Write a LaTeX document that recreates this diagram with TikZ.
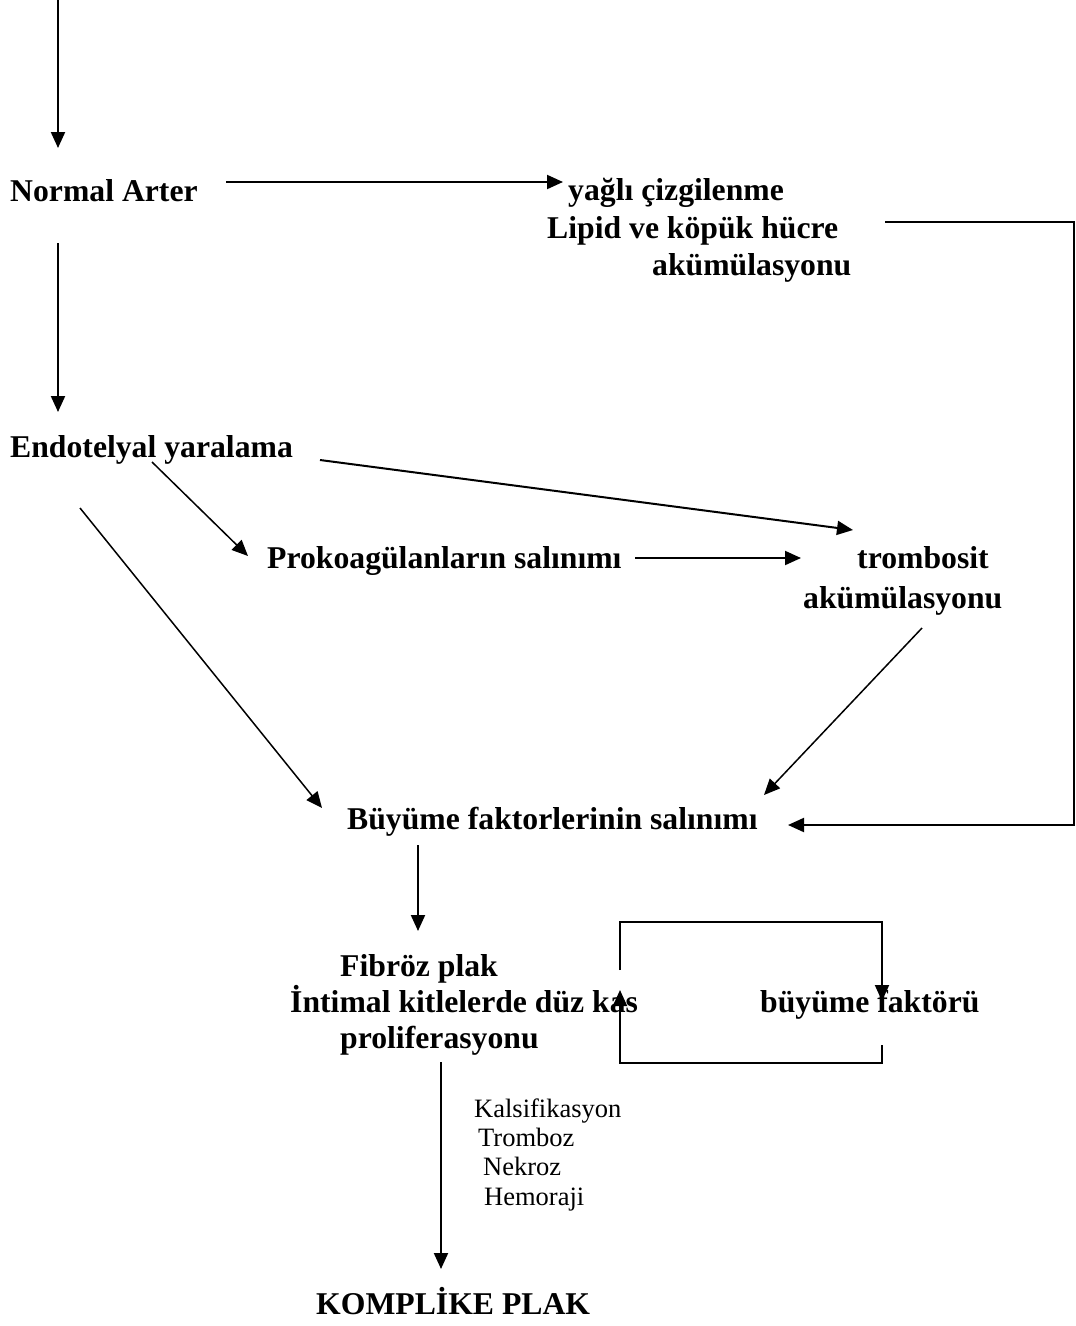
\documentclass[tikz,border=0pt]{standalone}
\usepackage{fontspec}
\setmainfont{Liberation Serif}
\usetikzlibrary{arrows.meta}
\begin{document}
\begin{tikzpicture}[x=1pt,y=-1pt,
  lbl/.style={anchor=base west,inner sep=0pt,font=\fontsize{31.7}{36}\selectfont\bfseries},
  sml/.style={anchor=base west,inner sep=0pt,font=\fontsize{26.5}{30}\selectfont},
  arr/.style={line width=2pt,-{Triangle[length=16pt,width=14pt]}},
  tarr/.style={line width=1.5pt,-{Triangle[length=16pt,width=14pt]}},
  ln/.style={line width=2pt}]
\useasboundingbox (0,0) rectangle (1076,1326);
% texts
\node[lbl] (normal) at (10,201) {Normal Arter};
\node[lbl] (yagli1) at (568,200) {yağlı çizgilenme};
\node[lbl] (yagli2) at (547,238) {Lipid ve köpük hücre};
\node[lbl] (yagli3) at (652,275) {akümülasyonu};
\node[lbl] (endo) at (10,457) {Endotelyal yaralama};
\node[lbl] (prok) at (267,568) {Prokoagülanların salınımı};
\node[lbl] (tromb1) at (857,568) {trombosit};
\node[lbl] (tromb2) at (803,608) {akümülasyonu};
\node[lbl] (buy) at (347,829) {Büyüme faktorlerinin salınımı};
\node[lbl] (fib1) at (340,976) {Fibröz plak};
\node[lbl] (fib2) at (290,1012) {İntimal kitlelerde düz kas};
\node[lbl] (fib3) at (340,1048) {proliferasyonu};
\node[lbl] (bf) at (760,1012) {büyüme faktörü};
\node[sml] (k1) at (474,1117) {Kalsifikasyon};
\node[sml] (k2) at (478,1146) {Tromboz};
\node[sml] (k3) at (483,1175) {Nekroz};
\node[sml] (k4) at (484,1205) {Hemoraji};
\node[lbl] (komp) at (316,1314) {KOMPLİKE PLAK};
% coordinates
\coordinate (top) at (58,0);
\coordinate (topE) at (58,148);
\coordinate (naR) at (226,182);
\coordinate (yaL) at (563,182);
\coordinate (naD) at (58,243);
\coordinate (enU) at (58,412);
\coordinate (lipR) at (885,222);
\coordinate (c1) at (1074,222);
\coordinate (c2) at (1074,825);
\coordinate (buyR) at (788,825);
\coordinate (enR) at (320,460);
\coordinate (trL) at (853,530);
\coordinate (enM) at (152,462);
\coordinate (prL) at (248,556);
\coordinate (prR) at (635,558);
\coordinate (trL2) at (801,558);
\coordinate (enD) at (80,508);
\coordinate (buyL) at (322,808);
\coordinate (trD) at (922,628);
\coordinate (buyT) at (764,795);
\coordinate (buyD) at (418,845);
\coordinate (fibU) at (418,931);
\coordinate (l1) at (620,970);
\coordinate (l2) at (620,922);
\coordinate (l3) at (882,922);
\coordinate (l4) at (882,1001);
\coordinate (l5) at (882,1045);
\coordinate (l6) at (882,1063);
\coordinate (l7) at (620,1063);
\coordinate (l8) at (620,990);
\coordinate (fibD) at (441,1062);
\coordinate (kompU) at (441,1269);
% connectors
\draw[arr] (top) -- (topE);
\draw[arr] (naR) -- (yaL);
\draw[arr] (naD) -- (enU);
\draw[arr] (lipR) -- (c1) -- (c2) -- (buyR);
\draw[arr] (enR) -- (trL);
\draw[tarr] (enM) -- (prL);
\draw[arr] (prR) -- (trL2);
\draw[tarr] (enD) -- (buyL);
\draw[tarr] (trD) -- (buyT);
\draw[arr] (buyD) -- (fibU);
\draw[arr] (l1) -- (l2) -- (l3) -- (l4);
\draw[arr] (l5) -- (l6) -- (l7) -- (l8);
\draw[arr] (fibD) -- (kompU);
\end{tikzpicture}
\end{document}
